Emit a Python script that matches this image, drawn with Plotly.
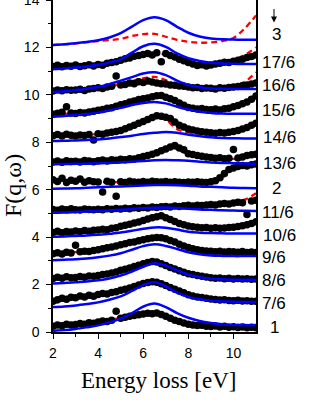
import plotly.graph_objects as go

# ---- data ----
labels = ["1", "7/6", "8/6", "9/6", "10/6", "11/6", "2", "13/6", "14/6", "15/6", "16/6", "17/6", "3"]
label_y = [0.19, 1.22, 2.19, 3.16, 4.08, 5.05, 6.06, 7.12, 8.21, 9.35, 10.4, 11.37, 12.55]
label_px = [268, 260, 260, 260, 261, 260, 270, 261, 261, 260, 260, 260, 270]

E_line = [2, 2.5, 3, 3.5, 4, 4.5, 5, 5.5, 6, 6.5, 7, 7.5, 8, 8.5, 9, 9.5, 10, 10.5, 11]

blue = {
    "1":    [0.05, 0.08, 0.13, 0.20, 0.28, 0.40, 0.56, 0.80, 1.07, 1.20, 1.05, 0.80, 0.60, 0.46, 0.38, 0.33, 0.30, 0.29, 0.29],
    "7/6":  [1.05, 1.08, 1.12, 1.18, 1.25, 1.36, 1.50, 1.73, 1.98, 2.10, 1.92, 1.66, 1.48, 1.38, 1.32, 1.29, 1.28, 1.27, 1.27],
    "8/6":  [2.05, 2.07, 2.10, 2.13, 2.18, 2.26, 2.38, 2.55, 2.75, 2.90, 2.80, 2.60, 2.42, 2.31, 2.25, 2.22, 2.20, 2.20, 2.20],
    "9/6":  [3.03, 3.05, 3.07, 3.10, 3.15, 3.22, 3.32, 3.47, 3.62, 3.70, 3.63, 3.50, 3.36, 3.28, 3.23, 3.21, 3.20, 3.20, 3.20],
    "10/6": [4.02, 4.03, 4.05, 4.07, 4.10, 4.14, 4.20, 4.27, 4.35, 4.41, 4.40, 4.32, 4.23, 4.19, 4.17, 4.16, 4.15, 4.15, 4.15],
    "11/6": [5.03, 5.04, 5.06, 5.08, 5.10, 5.12, 5.15, 5.19, 5.22, 5.24, 5.25, 5.23, 5.20, 5.17, 5.15, 5.13, 5.12, 5.11, 5.10],
    "2":    [6.04, 6.05, 6.06, 6.08, 6.10, 6.12, 6.14, 6.16, 6.18, 6.20, 6.20, 6.19, 6.17, 6.14, 6.12, 6.10, 6.08, 6.07, 6.06],
    "13/6": [7.07, 7.08, 7.09, 7.10, 7.11, 7.13, 7.15, 7.18, 7.21, 7.24, 7.25, 7.24, 7.22, 7.18, 7.15, 7.13, 7.12, 7.11, 7.10],
    "14/6": [8.05, 8.06, 8.08, 8.10, 8.12, 8.16, 8.22, 8.28, 8.35, 8.40, 8.43, 8.40, 8.32, 8.26, 8.21, 8.18, 8.17, 8.16, 8.16],
    "15/6": [9.08, 9.11, 9.15, 9.19, 9.25, 9.34, 9.45, 9.57, 9.66, 9.70, 9.64, 9.50, 9.38, 9.29, 9.24, 9.21, 9.20, 9.20, 9.20],
    "16/6": [10.12, 10.15, 10.20, 10.26, 10.33, 10.45, 10.60, 10.75, 10.90, 10.95, 10.83, 10.60, 10.42, 10.32, 10.27, 10.26, 10.25, 10.25, 10.25],
    "17/6": [11.08, 11.11, 11.15, 11.20, 11.27, 11.36, 11.50, 11.78, 12.05, 12.15, 12.02, 11.75, 11.55, 11.43, 11.35, 11.32, 11.31, 11.30, 11.30],
    "3":    [12.10, 12.13, 12.18, 12.23, 12.30, 12.42, 12.60, 12.88, 13.15, 13.27, 13.15, 12.87, 12.62, 12.46, 12.38, 12.34, 12.33, 12.32, 12.32],
}

red = {
    "1":    [0.22, 0.27, 0.32, 0.37, 0.43, 0.50, 0.60, 0.70, 0.77, 0.78, 0.62, 0.44, 0.31, 0.25, 0.22, 0.21, 0.20, 0.19, 0.18],
    "7/6":  [1.22, 1.32, 1.42, 1.50, 1.58, 1.68, 1.80, 1.95, 2.07, 2.10, 1.95, 1.74, 1.55, 1.44, 1.38, 1.34, 1.32, 1.31, 1.30],
    "8/6":  [2.26, 2.28, 2.30, 2.33, 2.38, 2.48, 2.62, 2.78, 2.93, 2.98, 2.85, 2.62, 2.45, 2.35, 2.28, 2.26, 2.25, 2.24, 2.22],
    "9/6":  [3.30, 3.33, 3.37, 3.42, 3.49, 3.60, 3.72, 3.85, 3.95, 3.98, 3.92, 3.72, 3.54, 3.45, 3.40, 3.38, 3.37, 3.36, 3.35],
    "10/6": [4.20, 4.22, 4.25, 4.28, 4.31, 4.38, 4.47, 4.58, 4.70, 4.82, 4.78, 4.58, 4.45, 4.40, 4.38, 4.38, 4.42, 4.50, 4.65],
    "11/6": [5.15, 5.15, 5.15, 5.15, 5.16, 5.17, 5.19, 5.22, 5.25, 5.28, 5.30, 5.32, 5.34, 5.37, 5.40, 5.43, 5.47, 5.58, 5.85],
    "2":    [6.33, 6.33, 6.33, 6.32, 6.32, 6.32, 6.32, 6.32, 6.32, 6.33, 6.33, 6.33, 6.32, 6.32, 6.33, 6.50, 6.88, 7.00, 7.08],
    "13/6": [7.15, 7.16, 7.18, 7.20, 7.22, 7.24, 7.27, 7.32, 7.40, 7.55, 7.78, 7.72, 7.48, 7.38, 7.32, 7.30, 7.30, 7.38, 7.50],
    "14/6": [8.27, 8.28, 8.29, 8.31, 8.35, 8.41, 8.50, 8.68, 8.90, 9.08, 8.95, 8.55, 8.42, 8.37, 8.35, 8.37, 8.43, 8.60, 8.90],
    "15/6": [9.18, 9.20, 9.22, 9.25, 9.32, 9.43, 9.58, 9.74, 9.86, 9.95, 9.88, 9.68, 9.46, 9.38, 9.36, 9.39, 9.48, 9.68, 10.05],
    "16/6": [10.15, 10.17, 10.20, 10.24, 10.30, 10.37, 10.45, 10.58, 10.70, 10.76, 10.62, 10.42, 10.30, 10.27, 10.27, 10.30, 10.38, 10.55, 10.95],
    "17/6": [11.15, 11.17, 11.20, 11.24, 11.28, 11.38, 11.50, 11.64, 11.72, 11.75, 11.70, 11.50, 11.30, 11.20, 11.22, 11.33, 11.48, 11.68, 12.00],
    "3":    [12.10, 12.13, 12.17, 12.22, 12.27, 12.31, 12.36, 12.48, 12.56, 12.57, 12.45, 12.32, 12.24, 12.20, 12.21, 12.27, 12.40, 12.80, 13.35],
}

E_dots = [2.0, 2.2, 2.4, 2.6, 2.8, 3.0, 3.2, 3.4, 3.6, 3.8, 4.0, 4.2, 4.4, 4.6, 4.8,
          5.0, 5.2, 5.4, 5.6, 5.8, 6.0, 6.2, 6.4, 6.6, 6.8, 7.0, 7.2, 7.4, 7.6, 7.8,
          8.0, 8.2, 8.4, 8.6, 8.8, 9.0, 9.2, 9.4, 9.6, 9.8, 10.0, 10.2, 10.4, 10.6, 10.8, 11.0]

dots = {
    "1":    [0.24, 0.30, 0.26, 0.33, 0.29, 0.32, 0.36, 0.33, 0.39, 0.37, 0.42, 0.46, 0.44, 0.50, 0.88,
             0.58, 0.62, 0.66, 0.70, 0.73, 0.76, 0.79, 0.77, 0.80, 0.74, 0.66, 0.58, 0.50, 0.44, 0.38,
             0.33, 0.30, 0.27, 0.28, 0.24, 0.23, 0.25, 0.21, 0.24, 0.20, 0.22, 0.19, 0.21, 0.18, 0.20, 0.18],
    "7/6":  [1.30, 1.36, 1.42, 1.38, 1.47, 1.44, 1.52, 1.48, 1.55, 1.51, 1.58, 1.62, 1.60, 1.67, 1.70,
             1.76, 1.80, 1.86, 1.92, 1.98, 2.04, 2.09, 2.12, 2.10, 2.03, 1.96, 1.88, 1.80, 1.73, 1.65,
             1.57, 1.52, 1.48, 1.45, 1.42, 1.39, 1.37, 1.35, 1.36, 1.33, 1.32, 1.34, 1.31, 1.32, 1.30, 1.30],
    "8/6":  [2.26, 2.31, 2.27, 2.33, 2.29, 2.30, 2.34, 2.31, 2.36, 2.35, 2.38, 2.42, 2.45, 2.49, 2.53,
             2.60, 2.65, 2.70, 2.76, 2.82, 2.88, 2.93, 2.97, 2.95, 2.88, 2.80, 2.72, 2.66, 2.58, 2.52,
             2.46, 2.42, 2.38, 2.35, 2.32, 2.29, 2.27, 2.28, 2.25, 2.27, 2.24, 2.26, 2.23, 2.25, 2.22, 2.23],
    "9/6":  [3.30, 3.34, 3.29, 3.36, 3.33, 3.66, 3.38, 3.41, 3.39, 3.44, 3.47, 3.51, 3.55, 3.58, 3.63,
             3.68, 3.72, 3.77, 3.80, 3.85, 3.89, 3.93, 3.96, 3.99, 3.97, 3.93, 3.86, 3.79, 3.70, 3.63,
             3.56, 3.51, 3.47, 3.44, 3.42, 3.40, 3.38, 3.41, 3.37, 3.39, 3.38, 3.36, 3.39, 3.35, 3.37, 3.35],
    "10/6": [4.20, 4.25, 4.19, 4.24, 4.22, 4.26, 4.23, 4.28, 4.25, 4.29, 4.30, 4.33, 4.31, 4.37, 4.40,
             4.46, 4.50, 4.54, 4.60, 4.64, 4.70, 4.76, 4.82, 4.86, 4.90, 4.82, 4.74, 4.66, 4.58, 4.52,
             4.47, 4.44, 4.42, 4.40, 4.41, 4.38, 4.40, 4.37, 4.39, 4.41, 4.42, 4.45, 4.48, 4.52, 4.58, 4.65],
    "11/6": [5.17, 5.13, 5.19, 5.15, 5.20, 5.16, 5.14, 5.19, 5.17, 5.15, 5.18, 5.16, 5.20, 5.18, 5.21,
             5.19, 5.22, 5.20, 5.24, 5.22, 5.25, 5.23, 5.27, 5.25, 5.28, 5.29, 5.27, 5.31, 5.29, 5.32,
             5.34, 5.31, 5.35, 5.33, 5.36, 5.38, 5.36, 5.40, 5.42, 5.40, 5.44, 5.47, 5.45, 4.95, 5.52, 5.56],
    "2":    [6.42, 6.35, 6.48, 6.30, 6.40, 6.36, 6.45, 6.32, 6.38, 6.34, 6.33, 5.90, 6.36, 6.31, 5.72,
             6.34, 6.30, 6.36, 6.33, 6.31, 6.35, 6.32, 6.36, 6.34, 6.33, 6.35, 6.31, 6.34, 6.32, 6.30,
             6.33, 6.31, 6.34, 6.32, 6.30, 6.34, 6.38, 6.50, 6.68, 6.85, 6.92, 6.98, 7.02, 7.00, 7.05, 7.08],
    "13/6": [7.17, 7.21, 7.16, 7.22, 7.19, 7.20, 7.17, 7.23, 7.21, 7.18, 7.22, 7.25, 7.21, 7.26, 7.24,
             7.28, 7.26, 7.31, 7.30, 7.35, 7.40, 7.44, 7.50, 7.56, 7.64, 7.72, 7.80, 7.86, 7.76, 7.68,
             7.52, 7.48, 7.44, 7.41, 7.38, 7.36, 7.33, 7.35, 7.31, 7.33, 7.70, 7.34, 7.38, 7.44, 7.47, 7.50],
    "14/6": [8.28, 8.33, 8.27, 8.34, 8.30, 8.26, 8.31, 8.29, 8.33, 8.10, 8.36, 8.34, 8.39, 8.42, 8.45,
             8.50, 8.57, 8.64, 8.72, 8.80, 8.88, 8.96, 9.04, 9.12, 9.10, 9.06, 9.00, 8.86, 8.72, 8.64,
             8.56, 8.52, 8.48, 8.44, 8.42, 8.40, 8.38, 8.41, 8.39, 8.42, 8.45, 8.50, 8.56, 8.62, 8.72, 8.80],
    "15/6": [9.18, 9.22, 9.27, 9.50, 9.23, 9.21, 9.26, 9.24, 9.28, 9.31, 9.35, 9.38, 9.43, 9.46, 9.52,
             9.58, 9.62, 9.70, 9.74, 9.80, 9.84, 9.87, 9.92, 9.96, 9.97, 9.90, 9.84, 9.76, 9.66, 9.56,
             9.47, 9.44, 9.40, 9.42, 9.38, 9.37, 9.40, 9.36, 9.41, 9.44, 9.50, 9.55, 9.63, 9.70, 9.82, 9.95],
    "16/6": [10.16, 10.21, 10.17, 10.22, 10.19, 10.20, 10.24, 10.18, 10.25, 10.27, 10.30, 10.27, 10.33, 10.36, 10.80,
             10.42, 10.44, 10.50, 10.47, 10.55, 10.52, 10.58, 10.54, 10.50, 10.47, 10.46, 10.42, 10.40, 10.37, 10.36,
             10.33, 10.30, 10.31, 10.27, 10.29, 10.28, 10.25, 10.30, 10.28, 10.31, 10.33, 10.35, 10.38, 10.42, 10.46, 10.50],
    "17/6": [11.20, 11.25, 11.18, 11.24, 11.21, 11.26, 11.20, 11.23, 11.27, 11.22, 11.28, 11.25, 11.33, 11.36, 11.40,
             11.46, 11.52, 11.55, 11.63, 11.66, 11.70, 11.74, 11.68, 11.78, 11.40, 11.74, 11.66, 11.60, 11.50, 11.44,
             11.36, 11.30, 11.24, 11.27, 11.22, 11.26, 11.30, 11.33, 11.38, 11.36, 11.42, 11.46, 11.50, 11.58, 11.62, 11.68],
}

x_ticks = [2, 4, 6, 8, 10]
y_ticks = [0, 2, 4, 6, 8, 10, 12, 14]

# ---- figure ----
fig = go.Figure()

for name in labels:
    fig.add_trace(go.Scatter(x=E_line, y=red[name], mode="lines",
                             line=dict(color="#ff0000", width=2.3, dash="6px,4px", shape="spline", smoothing=1.0),
                             hoverinfo="skip", showlegend=False))
for name in labels:
    if name in dots:
        fig.add_trace(go.Scatter(x=E_dots, y=dots[name], mode="markers",
                                 marker=dict(color="black", size=7.5, line=dict(width=0)),
                                 hoverinfo="skip", showlegend=False))
for name in labels:
    fig.add_trace(go.Scatter(x=E_line, y=blue[name], mode="lines",
                             line=dict(color="#0000ff", width=2.5, shape="spline", smoothing=1.0),
                             hoverinfo="skip", showlegend=False))

L, R, T, B = 53, 60, 0, 77
W, H = 316, 409
pw = W - L - R
ph = H - T - B

annotations = []
for name, yv, px in zip(labels, label_y, label_px):
    annotations.append(dict(text=name, xref="paper", yref="y", x=(px - L) / pw, y=yv,
                            xanchor="left", yanchor="middle", showarrow=False,
                            font=dict(family="Liberation Sans, Arial", size=17, color="black")))
# arrow above the labels
annotations.append(dict(text="", xref="paper", yref="y", x=(274 - L) / pw, y=13.05,
                        showarrow=True, ax=0, ay=-15, arrowhead=2, arrowsize=1.2,
                        arrowwidth=1, arrowcolor="black"))
# axis titles
annotations.append(dict(text="F(q,\u03c9)", xref="paper", yref="paper", x=(13 - L) / pw,
                        y=(ph - 186) / ph, textangle=-90, xanchor="center", yanchor="middle",
                        showarrow=False, font=dict(family="Liberation Serif, Times New Roman", size=24, color="black")))
annotations.append(dict(text="Energy loss [eV]", xref="paper", yref="paper", x=(158 - L) / pw,
                        y=(ph - 380) / ph, xanchor="center", yanchor="middle",
                        showarrow=False, font=dict(family="Liberation Serif, Times New Roman", size=23, color="black")))

fig.update_layout(
    width=W, height=H,
    margin=dict(l=L, r=R, t=T, b=B, pad=0, autoexpand=False),
    plot_bgcolor="white", paper_bgcolor="white",
    showlegend=False,
    annotations=annotations,
    xaxis=dict(range=[2, 11], tickvals=x_ticks, ticks="outside", ticklen=5, tickwidth=1.2,
               tickcolor="black", showline=True, linecolor="black", linewidth=1.5, mirror=True,
               showgrid=False, zeroline=False, automargin=False, ticklabelstandoff=2,
               tickfont=dict(family="Liberation Sans, Arial", size=14, color="black"),
               minor=dict(tickvals=[3, 5, 7, 9], ticks="outside", ticklen=3, tickcolor="black", tickwidth=1.2)),
    yaxis=dict(range=[0, 14], tickvals=y_ticks, ticks="outside", ticklen=5, tickwidth=1.2,
               tickcolor="black", showline=True, linecolor="black", linewidth=1.5, mirror=True,
               showgrid=False, zeroline=False, automargin=False, ticklabelstandoff=4,
               ticklabeloverflow="allow",
               tickfont=dict(family="Liberation Sans, Arial", size=14, color="black"),
               minor=dict(tickvals=[1, 3, 5, 7, 9, 11, 13], ticks="outside", ticklen=3, tickcolor="black", tickwidth=1.2)),
)

fig.write_html("out.html", config={"displayModeBar": False},
               post_script="document.body.style.margin='0';document.body.style.overflow='hidden';")
